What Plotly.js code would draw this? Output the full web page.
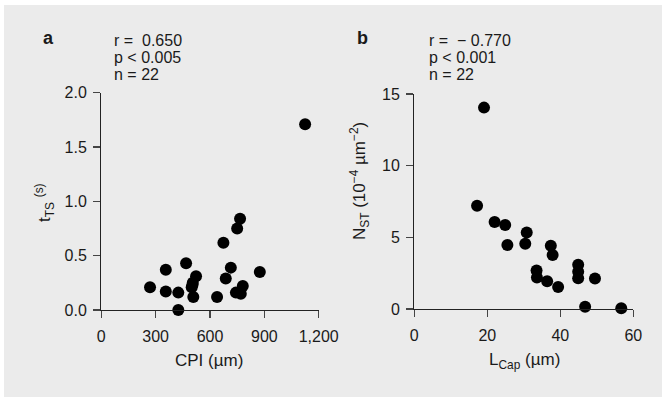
<!DOCTYPE html>
<html>
<head>
<meta charset="utf-8">
<script src="https://cdn.plot.ly/plotly-3.0.1.min.js"></script>
<style>
  html, body { margin:0; padding:0; background:#ffffff; }
  #bg { position:absolute; left:4px; top:5px; width:658px; height:392px; background:#ebebeb; }
  #chart { position:absolute; left:0; top:0; width:662px; height:397px; }
</style>
</head>
<body>
<div id="bg"></div>
<div id="chart"></div>
<script>
// Panel a: CPI (µm) vs tTS (s)
const cpi = [1125, 766, 750, 674, 468, 356, 715, 875, 523, 687, 505, 499, 269, 356, 425, 508, 639, 781, 743, 770, 425, 503];
const tts = [1.71, 0.84, 0.75, 0.62, 0.43, 0.37, 0.39, 0.35, 0.31, 0.29, 0.25, 0.21, 0.21, 0.17, 0.16, 0.12, 0.12, 0.22, 0.16, 0.15, 0.00, 0.23];
// Panel b: LCap (µm) vs NST (10^-4 µm^-2)
const lcap = [19.1, 17.2, 22.0, 24.9, 25.5, 30.8, 30.4, 37.4, 37.9, 33.5, 33.6, 36.4, 39.4, 44.9, 44.9, 44.9, 49.5, 46.8, 56.7];
const nst  = [14.05, 7.2, 6.07, 5.86, 4.47, 5.33, 4.56, 4.42, 3.77, 2.68, 2.19, 1.93, 1.54, 3.09, 2.6, 2.14, 2.12, 0.16, 0.05];

const xTicksA = [0, 300, 600, 900, 1200];
const yTicksA = [0, 0.5, 1.0, 1.5, 2.0];
const xTicksB = [0, 20, 40, 60];
const yTicksB = [0, 5, 10, 15];

const statsA = ['r =  0.650', 'p < 0.005', 'n = 22'];
const statsB = ['r =  \u2212 0.770', 'p < 0.001', 'n = 22'];

const W = 662, H = 397;
const px = v => v / W;
const py = v => 1 - v / H;

const FONT = 'Liberation Sans, Arial, sans-serif';
const INK = '#1a1a1a';

const marker = {color: '#000000', size: 12, line: {width: 0}};

const traces = [
  {x: cpi, y: tts, type: 'scatter', mode: 'markers', marker: marker, xaxis: 'x', yaxis: 'y', cliponaxis: false, showlegend: false},
  {x: lcap, y: nst, type: 'scatter', mode: 'markers', marker: marker, xaxis: 'x2', yaxis: 'y2', cliponaxis: false, showlegend: false}
];

const axBase = {
  showline: true, linecolor: '#222', linewidth: 1.3,
  ticks: 'outside', ticklen: 7, tickwidth: 1.3, tickcolor: '#444',
  showgrid: false, zeroline: false, fixedrange: true,
  tickfont: {family: FONT, size: 16, color: INK}
};

const annotations = [];
function txt(x, y, text, opts) {
  annotations.push(Object.assign({
    xref: 'paper', yref: 'paper', x: px(x), y: py(y), text: text, showarrow: false,
    font: {family: FONT, size: 16, color: INK}, xanchor: 'center', yanchor: 'middle'
  }, opts || {}));
}
// panel letters
txt(48, 38, '<b>a</b>', {font: {family: FONT, size: 18, color: INK}});
txt(362, 38, '<b>b</b>', {font: {family: FONT, size: 18, color: INK}});
// stats
const lineY = [40.7, 57.5, 74];
statsA.forEach((s, i) => txt(112, lineY[i], s, {xanchor: 'left'}));
statsB.forEach((s, i) => txt(427, lineY[i], s, {xanchor: 'left'}));
// axis titles
const titleFont = {family: FONT, size: 17, color: INK};
txt(209, 360, 'CPI (\u00b5m)', {font: titleFont});
txt(524, 361, 'L<sub>Cap</sub> (\u00b5m)', {font: titleFont});
txt(44, 203, 't<sub>TS</sub> <sup>(s)</sup>', {textangle: -90, font: titleFont});
txt(359, 181, 'N<sub>ST</sub> (10<sup>\u22124</sup> \u00b5m<sup>\u22122</sup>)', {textangle: -90, font: titleFont});

const layout = {
  width: W, height: H,
  margin: {l: 0, r: 0, t: 0, b: 0},
  paper_bgcolor: 'rgba(0,0,0,0)', plot_bgcolor: 'rgba(0,0,0,0)',
  showlegend: false,
  xaxis: Object.assign({}, axBase, {domain: [px(101.3), px(318.7)], range: [0, 1200], tickvals: xTicksA, tickformat: ',d', anchor: 'y', ticklabelstandoff: 4}),
  yaxis: Object.assign({}, axBase, {domain: [py(310), py(92.7)], range: [0, 2], tickvals: yTicksA, tickformat: '.1f', anchor: 'x', ticklabelstandoff: 3}),
  xaxis2: Object.assign({}, axBase, {domain: [px(414.3), px(633.3)], range: [0, 60], tickvals: xTicksB, anchor: 'y2', ticklabelstandoff: 4}),
  yaxis2: Object.assign({}, axBase, {domain: [py(309), py(94)], range: [0, 15], tickvals: yTicksB, anchor: 'x2', ticklabelstandoff: 3}),
  annotations: annotations
};

Plotly.newPlot('chart', traces, layout, {staticPlot: true, displayModeBar: false});
</script>
</body>
</html>
